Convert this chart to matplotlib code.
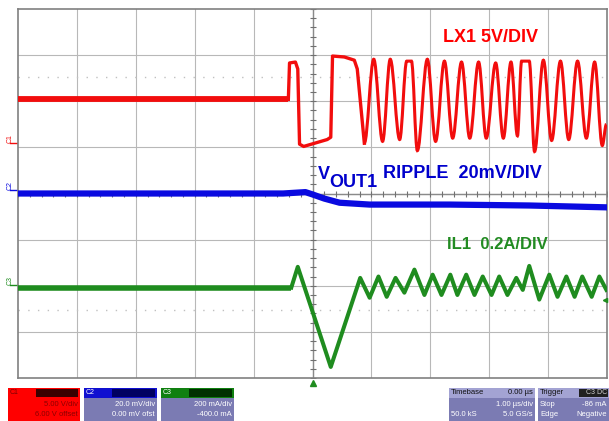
import numpy as np
import matplotlib
matplotlib.use('Agg')
import matplotlib.pyplot as plt
from matplotlib.patches import Rectangle, PathPatch
from matplotlib.path import Path

plt.rcParams['font.family'] = ['Liberation Sans', 'DejaVu Sans']

# scope screen is 10 x 8 div, 1 us/div, trigger at t=0
# all trace points (time in div, level in div)
lx1_t = [-5.0, -0.41, -0.39, -0.29, -0.25, -0.22, -0.15, 0.25, 0.31, 0.34, 0.54, 0.71, 0.76,
         0.88, 1.04, 1.19, 1.32, 1.48, 1.60, 1.68, 1.78, 1.95, 2.09, 2.24, 2.38, 2.53, 2.67,
         2.82, 2.95, 3.11, 3.24, 3.37, 3.48, 3.55, 3.68, 3.77, 3.92, 4.06, 4.21, 4.35, 4.50,
         4.65, 4.79, 4.92, 4.99]
lx1_v = [2.04, 2.04, 2.83, 2.85, 2.70, 1.07, 1.02, 1.17, 1.22, 2.98, 2.96, 2.89, 2.70,
         1.09, 2.91, 1.13, 2.91, 1.17, 2.87, 2.87, 0.93, 2.91, 1.13, 2.87, 1.20, 2.85, 1.20,
         2.85, 1.20, 2.83, 1.20, 2.85, 1.25, 2.87, 2.87, 0.91, 2.89, 1.15, 2.87, 1.17, 2.87,
         1.20, 2.85, 1.04, 1.50]

vout_t = [-5.0, -0.5, -0.12, 0.0, 0.20, 0.46, 0.97, 2.33, 3.68, 4.99]
vout_v = [0.0, 0.0, 0.03, -0.02, -0.11, -0.20, -0.24, -0.24, -0.26, -0.30]

il1_t = [-5.0, -0.36, -0.25, 0.31, 0.81, 0.97, 1.12, 1.26, 1.41, 1.56, 1.73, 1.90, 2.04,
         2.19, 2.34, 2.46, 2.61, 2.75, 2.89, 3.04, 3.17, 3.31, 3.46, 3.57, 3.68, 3.85, 4.02,
         4.16, 4.31, 4.45, 4.58, 4.74, 4.87, 4.99]
il1_v = [-2.04, -2.04, -1.59, -3.76, -1.83, -2.26, -1.80, -2.24, -1.83, -2.15, -1.65, -2.20, -1.76,
         -2.20, -1.76, -2.20, -1.76, -2.20, -1.80, -2.20, -1.80, -2.20, -1.83, -2.09, -1.57, -2.30, -1.76,
         -2.24, -1.80, -2.24, -1.80, -2.24, -1.80, -2.09]

red = '#f20d0d'
blue = '#0a0ae0'
green = '#1f8c1f'


def smooth_path(t, v, k=0.36):
    # sine-like bezier between the read extrema
    verts = [(t[0], v[0])]
    codes = [Path.MOVETO]
    for i in range(1, len(t)):
        dt = t[i] - t[i-1]
        verts += [(t[i-1] + k*dt, v[i-1]), (t[i] - k*dt, v[i]), (t[i], v[i])]
        codes += [Path.CURVE4]*3
    return Path(verts, codes)


fig = plt.figure(figsize=(6.09, 4.21), dpi=100)
ax = fig.add_axes([18/609, 1-378/421, 589/609, 369/421])
ax.set_xlim(-5, 5)
ax.set_ylim(-4, 4)
ax.set_xticks([])
ax.set_yticks([])
for s in ax.spines.values():
    s.set_color('#808080')
    s.set_linewidth(1.2)

# graticule
for gx in range(-4, 5):
    ax.axvline(gx, color='#b8b8b8', lw=0.8, zorder=1)
for gy in range(-3, 4):
    ax.axhline(gy, color='#b8b8b8', lw=0.8, zorder=1)
ax.axvline(0, color='#8a8a8a', lw=1.0, zorder=1)
ax.axhline(0, color='#8a8a8a', lw=1.0, zorder=1)
mt = np.arange(-4, 4.01, 0.2)
ax.plot(np.zeros_like(mt), mt, ls='none', marker='_', ms=4, color='#707070', mew=0.8, zorder=1)
mx = np.arange(-5, 5.01, 0.2)
ax.plot(mx, np.zeros_like(mx), ls='none', marker='|', ms=4, color='#707070', mew=0.8, zorder=1)
for cy in (2.52, -2.52):
    ax.axhline(cy, color='#c0c0c0', lw=1.0, ls=(0, (1, 6)), zorder=1)

# traces: noisy flat parts drawn thicker
ax.plot(lx1_t[:2], lx1_v[:2], color=red, lw=4.2, solid_capstyle='butt', zorder=3)
ax.plot(lx1_t[1:14], lx1_v[1:14], color=red, lw=2.4, zorder=3)
ax.add_patch(PathPatch(smooth_path(lx1_t[13:], lx1_v[13:]), fill=False, edgecolor=red, lw=2.2, zorder=3))
ax.plot(vout_t, vout_v, color=blue, lw=4.5, zorder=3)
ax.plot(il1_t[:2], il1_v[:2], color=green, lw=4.0, solid_capstyle='butt', zorder=3)
ax.plot(il1_t[1:], il1_v[1:], color=green, lw=2.9, zorder=3)

# trigger markers
ax.plot(0, -4.1, marker='^', ms=5, color=green, clip_on=False, zorder=4)
ax.plot(4.97, -2.3, marker='<', ms=3, color=green, clip_on=False, zorder=4)

# labels
ax.text(2.21, 3.39, 'LX1 5V/DIV', color='#ff0000', fontsize=13, fontweight='bold', va='center', zorder=5)
ax.text(0.085, 0.41, 'V', color='#0000cc', fontsize=13, fontweight='bold', va='center', zorder=5)
ax.text(0.29, 0.24, 'OUT1', color='#0000cc', fontsize=13, fontweight='bold', va='center', zorder=5)
ax.text(1.19, 0.43, 'RIPPLE  20mV/DIV', color='#0000cc', fontsize=13, fontweight='bold', va='center', zorder=5)
ax.text(2.29, -1.11, 'IL1  0.2A/DIV', color='#228b22', fontsize=12, fontweight='bold', va='center', zorder=5)

# status bar and channel markers, pixel coords
sb = fig.add_axes([0, 0, 1, 1], zorder=-1)
sb.set_xlim(0, 609)
sb.set_ylim(421, 0)
sb.axis('off')

for name, col, yy in (('C1', red, 143), ('C2', blue, 190), ('C3', green, 285)):
    sb.text(10, yy, name, color=col, fontsize=5, rotation=90, ha='center', va='bottom')
    sb.plot([10, 17], [yy, yy], color=col, lw=1)

slate = '#7b7bb3'
boxes = [
    (8, 80, '#ff0000', '#ff0000', '#3a0000', 'C1', '#7a0000', ['5.00 V/div', '6.00 V offset'], '#8b0000'),
    (84, 157, slate, '#1010d0', '#000060', 'C2', '#ffffff', ['20.0 mV/div', '0.00 mV ofst'], '#ffffff'),
    (161, 234, slate, '#108010', '#003000', 'C3', '#ffffff', ['200 mA/div', '-400.0 mA'], '#ffffff'),
]
for x0, x1, body, head, head2, lab, labcol, lines, tcol in boxes:
    sb.add_patch(Rectangle((x0, 388), x1-x0, 33, facecolor=body, edgecolor='none'))
    sb.add_patch(Rectangle((x0, 388), x1-x0, 10, facecolor=head, edgecolor='none'))
    sb.add_patch(Rectangle((x0+28, 389), x1-x0-30, 8, facecolor=head2, edgecolor='none'))
    sb.text(x0+2, 393, lab, color=labcol, fontsize=5, va='center')
    sb.text(x1-2, 404, lines[0], color=tcol, fontsize=5.5, ha='right', va='center')
    sb.text(x1-2, 414, lines[1], color=tcol, fontsize=5.5, ha='right', va='center')

sb.add_patch(Rectangle((449, 388), 86, 33, facecolor=slate, edgecolor='none'))
sb.add_patch(Rectangle((449, 388), 86, 10, facecolor='#a3a3d3', edgecolor='none'))
sb.text(451, 393, 'Timebase', fontsize=5.5, va='center', color='#101010')
sb.text(533, 393, '0.00 µs', fontsize=5.5, va='center', ha='right', color='#101010')
sb.text(533, 404, '1.00 µs/div', fontsize=5.5, va='center', ha='right', color='white')
sb.text(451, 414, '50.0 kS', fontsize=5.5, va='center', color='white')
sb.text(533, 414, '5.0 GS/s', fontsize=5.5, va='center', ha='right', color='white')

sb.add_patch(Rectangle((538, 388), 71, 33, facecolor=slate, edgecolor='none'))
sb.add_patch(Rectangle((538, 388), 71, 10, facecolor='#a3a3d3', edgecolor='none'))
sb.add_patch(Rectangle((579, 389), 29, 8, facecolor='#202020', edgecolor='none'))
sb.text(540, 393, 'Trigger', fontsize=5.5, va='center', color='#101010')
sb.text(607, 393, 'C3 DC', fontsize=5, va='center', ha='right', color='#d0d0d0')
sb.text(540, 404, 'Stop', fontsize=5.5, va='center', color='white')
sb.text(607, 404, '-86 mA', fontsize=5.5, va='center', ha='right', color='white')
sb.text(540, 414, 'Edge', fontsize=5.5, va='center', color='white')
sb.text(607, 414, 'Negative', fontsize=5.5, va='center', ha='right', color='white')

fig.savefig('out.png', dpi=100)
